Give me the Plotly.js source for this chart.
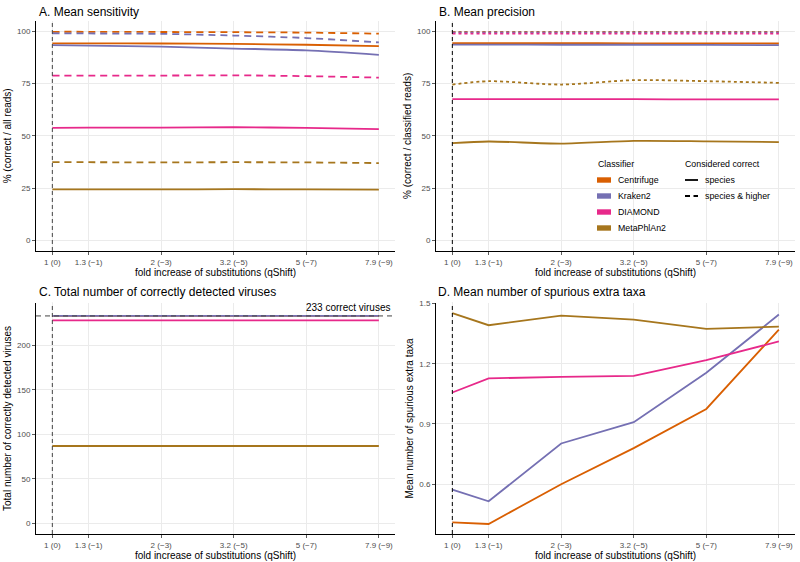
<!DOCTYPE html>
<html>
<head>
<meta charset="utf-8">
<script src="https://cdn.plot.ly/plotly-3.0.1.min.js"></script>
<style>html,body{margin:0;padding:0;background:#fff;}#chart{width:800px;height:562px;}</style>
</head>
<body>
<div id="chart"></div>
<script>
// ---- data ----
const qShift = [0, -1, -3, -5, -7, -9];
const tickLabels = ['1 (0)', '1.3 (\u22121)', '2 (\u22123)', '3.2 (\u22125)', '5 (\u22127)', '7.9 (\u22129)'];
const classifiers = ['Centrifuge', 'Kraken2', 'DIAMOND', 'MetaPhlAn2'];
const colors = ['#d95f02', '#7570b3', '#e7298a', '#a6761d'];
const correctLevels = ['species', 'species & higher'];

// A. mean sensitivity (%), order = classifiers
const sensSpecies = [
  [94.2, 94.2, 94.1, 93.9, 93.5, 92.8],
  [93.3, 93.1, 92.6, 91.7, 90.8, 88.7],
  [53.8, 53.9, 53.9, 54.1, 53.8, 53.2],
  [24.4, 24.4, 24.4, 24.5, 24.4, 24.3]
];
const sensHigher = [
  [99.7, 99.7, 99.6, 99.5, 99.3, 98.8],
  [99.0, 98.9, 98.7, 97.9, 96.7, 94.6],
  [78.8, 78.8, 78.8, 78.9, 78.5, 77.8],
  [37.4, 37.4, 37.3, 37.4, 37.3, 37.0]
];
// B. mean precision (%)
const precSpecies = [
  [94.3, 94.3, 94.3, 94.2, 94.2, 94.1],
  [93.6, 93.6, 93.5, 93.5, 93.4, 93.3],
  [67.5, 67.5, 67.5, 67.5, 67.4, 67.4],
  [46.5, 47.3, 46.3, 47.6, 47.4, 47.0]
];
const precHigher = [
  [99.7, 99.7, 99.7, 99.7, 99.7, 99.7],
  [99.4, 99.4, 99.4, 99.4, 99.4, 99.4],
  [98.8, 98.8, 98.8, 98.8, 98.8, 98.8],
  [74.5, 76.1, 74.5, 76.6, 76.1, 75.3]
];
// C. total number of correctly detected viruses
const virusCount = [
  [233, 233, 233, 233, 233, 233],
  [233, 233, 233, 233, 233, 233],
  [228, 228, 228, 228, 228, 228],
  [87, 87, 87, 87, 87, 87]
];
const totalViruses = 233;
// D. mean number of spurious extra taxa
const spurious = [
  [0.410, 0.402, 0.600, 0.780, 0.975, 1.370],
  [0.573, 0.515, 0.803, 0.909, 1.155, 1.445],
  [1.057, 1.127, 1.135, 1.140, 1.218, 1.311],
  [1.452, 1.392, 1.440, 1.420, 1.374, 1.385]
];

// ---- traces ----
const FONT = 'Liberation Sans, Arial, Helvetica, sans-serif';
const traces = [];
function addSet(values, xa, ya, dash, shape) {
  values.forEach((v, i) => {
    traces.push({
      type: 'scatter', mode: 'lines', x: qShift, y: v, xaxis: xa, yaxis: ya,
      name: classifiers[i], showlegend: false, hoverinfo: 'skip',
      line: {color: colors[i], width: 1.8, dash: dash, shape: shape, smoothing: 0.8}
    });
  });
}
addSet(sensSpecies, 'x', 'y', 'solid', 'spline');
addSet(sensHigher, 'x', 'y', '7px,5px', 'spline');
addSet(precSpecies, 'x2', 'y2', 'solid', 'spline');
addSet(precHigher, 'x2', 'y2', '3px,3px', 'spline');
addSet(virusCount, 'x3', 'y3', 'solid', 'linear');
addSet(spurious, 'x4', 'y4', 'solid', 'linear');

// ---- layout ----
const xRange = [0.45, -9.45];
function xAxis(domain, anchor) {
  return {
    domain: domain, anchor: anchor, range: xRange,
    tickvals: qShift, ticktext: tickLabels,
    showline: true, linecolor: '#000', linewidth: 1,
    ticks: 'outside', ticklen: 3, tickcolor: '#333', tickwidth: 0.8,
    tickfont: {size: 8, color: '#4d4d4d', family: FONT},
    showgrid: true, gridcolor: '#ebebeb', gridwidth: 1, zeroline: false,
    title: {text: 'fold increase of substitutions (qShift)', font: {size: 10, color: '#000', family: FONT}, standoff: 3}
  };
}
function yAxis(domain, anchor, range, tickvals, title, fmt) {
  return {
    domain: domain, anchor: anchor, range: range, tickvals: tickvals,
    tickformat: fmt || '',
    showline: true, linecolor: '#000', linewidth: 1,
    ticks: 'outside', ticklen: 3, tickcolor: '#333', tickwidth: 0.8,
    tickfont: {size: 8, color: '#4d4d4d', family: FONT},
    showgrid: true, gridcolor: '#ebebeb', gridwidth: 1, zeroline: false,
    title: {text: title, font: {size: 10, color: '#000', family: FONT}, standoff: 3}
  };
}

const topY = [0.5534, 0.9632];
const botY = [0.0498, 0.4610];
const leftX = [0.045, 0.494];
const rightX = [0.545, 0.994];

const shapes = [];
['x', 'x2', 'x3', 'x4'].forEach((xa, k) => {
  const ya = ['y', 'y2', 'y3', 'y4'][k];
  shapes.push({type: 'line', xref: xa, yref: ya + ' domain', x0: qShift[0], x1: qShift[0], y0: 0, y1: 1,
    line: {color: k === 0 || k === 2 ? '#444' : '#000', width: 1, dash: '4px,3px'}, layer: 'above'});
});
shapes.push({type: 'line', xref: 'x3 domain', yref: 'y3', x0: 0, x1: 1, y0: totalViruses, y1: totalViruses,
  line: {color: '#444', width: 1, dash: '5px,4px'}, layer: 'above'});

// manual legend (paper coords)
const W = 800, H = 562;
const px = x => x / W, py = y => 1 - y / H;
const annotations = [];
const rowY = [180, 196, 212, 228];
classifiers.forEach((c, i) => {
  shapes.push({type: 'rect', xref: 'paper', yref: 'paper', x0: px(597), x1: px(611), y0: py(rowY[i] + 2.7), y1: py(rowY[i] - 2.7),
    fillcolor: colors[i], line: {width: 0}});
  annotations.push({xref: 'paper', yref: 'paper', x: px(616), y: py(rowY[i]), xanchor: 'left', yanchor: 'middle',
    text: c, showarrow: false, font: {size: 8.8, color: '#000', family: FONT}});
});
annotations.push({xref: 'paper', yref: 'paper', x: px(596), y: py(164), xanchor: 'left', yanchor: 'middle',
  text: 'Classifier', showarrow: false, font: {size: 8.8, color: '#000', family: FONT}});
annotations.push({xref: 'paper', yref: 'paper', x: px(683), y: py(164), xanchor: 'left', yanchor: 'middle',
  text: 'Considered correct', showarrow: false, font: {size: 8.8, color: '#000', family: FONT}});
['solid', '5px,3.5px'].forEach((d, i) => {
  shapes.push({type: 'line', xref: 'paper', yref: 'paper', x0: px(685), x1: px(698), y0: py(rowY[i]), y1: py(rowY[i]),
    line: {color: '#000', width: 1.8, dash: d}});
  annotations.push({xref: 'paper', yref: 'paper', x: px(703), y: py(rowY[i]), xanchor: 'left', yanchor: 'middle',
    text: correctLevels[i], showarrow: false, font: {size: 8.8, color: '#000', family: FONT}});
});

// panel titles
[['A. Mean sensitivity', 36.5, 12], ['B. Mean precision', 437, 12],
 ['C. Total number of correctly detected viruses', 36.5, 292], ['D. Mean number of spurious extra taxa', 435.5, 292]]
 .forEach(t => annotations.push({xref: 'paper', yref: 'paper', x: px(t[1]), y: py(t[2]), xanchor: 'left', yanchor: 'middle',
   text: t[0], showarrow: false, font: {size: 12, color: '#000', family: FONT}}));

annotations.push({xref: 'x3 domain', yref: 'y3', x: 0.99, y: totalViruses, xanchor: 'right', yanchor: 'bottom', yshift: 1,
  text: totalViruses + ' correct viruses', showarrow: false, font: {size: 10, color: '#000', family: FONT}});

const layout = {
  width: 800, height: 562,
  margin: {l: 0, r: 0, t: 0, b: 0},
  paper_bgcolor: '#fff', plot_bgcolor: '#fff',
  showlegend: false,
  font: {family: FONT},
  xaxis: xAxis(leftX, 'y'),
  yaxis: yAxis(topY, 'x', [-5, 105], [0, 25, 50, 75, 100], '% (correct / all reads)'),
  xaxis2: xAxis(rightX, 'y2'),
  yaxis2: yAxis(topY, 'x2', [-5, 105], [0, 25, 50, 75, 100], '% (correct / classified reads)'),
  xaxis3: xAxis(leftX, 'y3'),
  yaxis3: yAxis(botY, 'x3', [-11.8, 247.6], [0, 50, 100, 150, 200], 'Total number of correctly detected viruses'),
  xaxis4: xAxis(rightX, 'y4'),
  yaxis4: yAxis(botY, 'x4', [0.352, 1.503], [0.6, 0.9, 1.2, 1.5], 'Mean number of spurious extra taxa', '.1f'),
  shapes: shapes,
  annotations: annotations
};

Plotly.newPlot('chart', traces, layout, {displayModeBar: false, staticPlot: true});
</script>
</body>
</html>
